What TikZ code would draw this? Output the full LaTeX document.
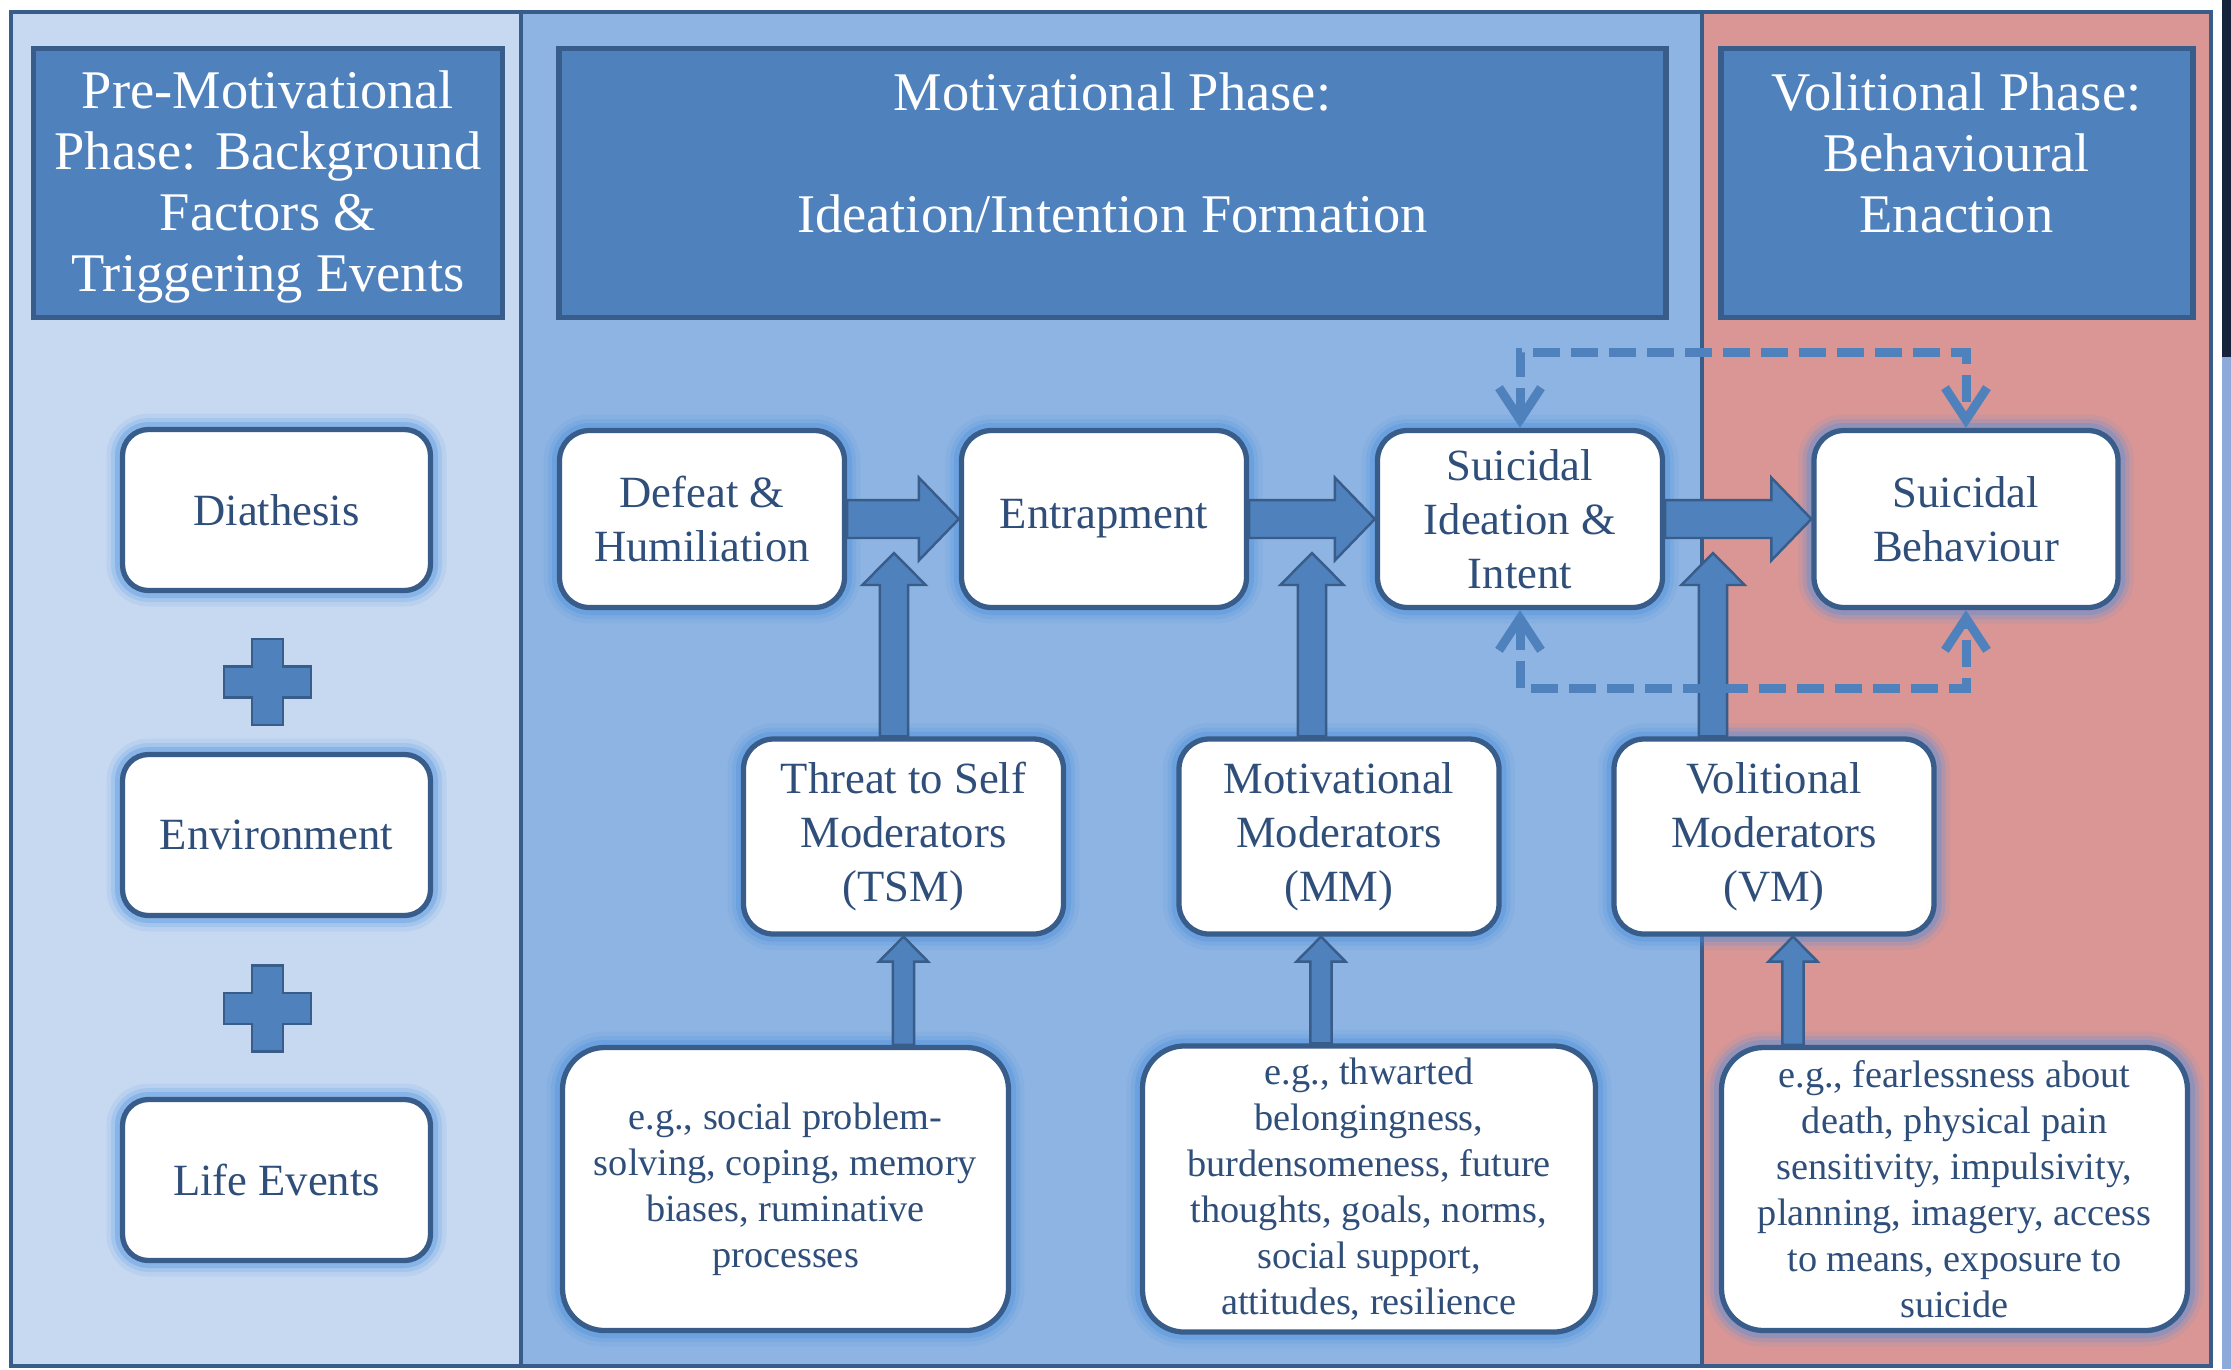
\documentclass[tikz,border=0pt]{standalone}
\usepackage{fontspec}
\setmainfont{Liberation Serif}
\usetikzlibrary{arrows.meta,positioning,calc}

\definecolor{paleblue}{HTML}{C6D9F1}
\definecolor{midblue}{HTML}{8EB4E3}
\definecolor{rosered}{HTML}{D99694}
\definecolor{headblue}{HTML}{4F81BD}
\definecolor{edgeblue}{HTML}{385D8A}
\definecolor{glowblue}{HTML}{4A8FE0}
\definecolor{inkblue}{HTML}{2F4F7A}
\definecolor{navystrip}{HTML}{17233A}
\definecolor{sidestrip}{HTML}{8EAADB}

\tikzset{
    phasehead/.style={rectangle, fill=headblue, draw=edgeblue, line width=1.7pt,
        text=white, align=center, minimum height=26.9mm,
        font=\fontsize{15.5}{17.3}\selectfont},
    card/.style={rectangle, fill=white, draw=edgeblue, line width=1.5pt,
        text=inkblue, align=center,
        preaction={draw=glowblue, line width=3.2mm, opacity=0.1},
        preaction={draw=glowblue, line width=2.3mm, opacity=0.18},
        preaction={draw=glowblue, line width=1.5mm, opacity=0.3}},
    factor/.style={card, rounded corners=2.6mm, minimum width=30.8mm,
        minimum height=16.1mm, font=\fontsize{12.7}{15.4}\selectfont},
    stage/.style={card, rounded corners=3mm, minimum width=28.5mm,
        minimum height=17.7mm, font=\fontsize{12.7}{15.4}\selectfont},
    moderator/.style={card, rounded corners=3mm, minimum width=32mm,
        minimum height=19.5mm, font=\fontsize{12.7}{15.4}\selectfont},
    example/.style={card, rounded corners=4.2mm, minimum height=28.3mm,
        font=\fontsize{10.9}{13.1}\selectfont},
    plussign/.style={fill=headblue, draw=edgeblue, line width=0.8pt},
    fatright/.style={draw=edgeblue, fill=headblue, line width=0.7pt,
        to path={let \p1=(\tikztostart), \p2=(\tikztotarget) in
            (\x1,\y1+5.4pt) -- (\x2-11.4pt,\y1+5.4pt) -- (\x2-11.4pt,\y1+11.8pt)
            -- (\x2,\y1) -- (\x2-11.4pt,\y1-11.8pt) -- (\x2-11.4pt,\y1-5.4pt)
            -- (\x1,\y1-5.4pt) -- cycle}},
    fatup/.style={draw=edgeblue, fill=headblue, line width=0.7pt,
        to path={let \p1=(\tikztostart), \p2=(\tikztotarget) in
            (\x1-4pt,\y1) -- (\x1-4pt,\y2-9.1pt) -- (\x1-9pt,\y2-9.1pt)
            -- (\x1,\y2) -- (\x1+9pt,\y2-9.1pt) -- (\x1+4pt,\y2-9.1pt)
            -- (\x1+4pt,\y1) -- cycle}},
    thinup/.style={draw=edgeblue, fill=headblue, line width=0.7pt,
        to path={let \p1=(\tikztostart), \p2=(\tikztotarget) in
            (\x1-3pt,\y1) -- (\x1-3pt,\y2-7.1pt) -- (\x1-7pt,\y2-7.1pt)
            -- (\x1,\y2) -- (\x1+7pt,\y2-7.1pt) -- (\x1+3pt,\y2-7.1pt)
            -- (\x1+3pt,\y1) -- cycle}},
    feedback/.style={draw=headblue, line width=0.9mm,
        dash pattern=on 2.7mm off 1.1mm, <->},
}

\begin{document}
\begin{tikzpicture}[x=0.1mm, y=-0.1mm, >={Straight Barb[length=3.2mm,width=4.2mm]}, node distance=40mm]
    \useasboundingbox (0,0) rectangle (2231,1369);
    \fill[white] (0,0) rectangle (2231,1369);
    \fill[navystrip] (2222,0) rectangle (2231,357);
    \fill[sidestrip] (2222,357) rectangle (2231,1369);

    \filldraw[fill=paleblue, draw=edgeblue, line width=1.3pt] (11,12) rectangle (521,1366);
    \filldraw[fill=midblue, draw=edgeblue, line width=1.3pt] (521,12) rectangle (1702,1366);
    \filldraw[fill=rosered, draw=edgeblue, line width=1.3pt] (1702,12) rectangle (2211,1366);

    \node[phasehead, minimum width=46.9mm] (prehead) at (268,183)
        {\rule{0pt}{13pt}Pre-Motivational\\Phase: Background\\Factors \&\\Triggering Events};
    \node[phasehead, minimum width=110.7mm] (motivhead) at (1112.5,183)
        {Motivational Phase:\\\mbox{}\\Ideation/Intention Formation\\\mbox{}};
    \node[phasehead, minimum width=47.2mm] (volhead) at (1956.5,183)
        {Volitional Phase:\\Behavioural\\Enaction\\\mbox{}};

    \node[factor] (diath) at (276.5,510) {Diathesis};
    \node[factor, node distance=32.5mm, below of=diath] (envir) {Environment};
    \node[factor, node distance=34.5mm, below of=envir] (life) {Life Events};

    \coordinate (plusa) at (267.5,682);
    \coordinate (plusb) at (267.5,1008.5);
    \foreach \p in {plusa,plusb}
        \draw[plussign] (\p) ++(-15.5,-43) -- ++(31,0) -- ++(0,27.5) -- ++(28,0)
            -- ++(0,31) -- ++(-28,0) -- ++(0,27.5) -- ++(-31,0) -- ++(0,-27.5)
            -- ++(-28,0) -- ++(0,-31) -- ++(28,0) -- cycle;

    \node[stage] (defeat) at (702,519) {Defeat \&\\Humiliation};
    \node[stage, node distance=40.2mm, right of=defeat] (entrap) {Entrapment};
    \node[stage, node distance=41.6mm, right of=entrap] (ideation) {Suicidal\\Ideation \&\\Intent};
    \node[stage, minimum width=30.4mm, node distance=44.6mm, right of=ideation] (behav) {Suicidal\\Behaviour};

    \node[moderator] (tsm) at (903.5,836.5) {Threat to Self\\Moderators\\(TSM)};
    \node[moderator, node distance=43.55mm, right of=tsm] (mm) {Motivational\\Moderators\\(MM)};
    \node[moderator, node distance=43.5mm, right of=mm] (vm) {Volitional\\Moderators\\(VM)};

    \node[example, minimum width=44.6mm] (tsmex) at (785.5,1189)
        {e.g., social problem-\\solving, coping, memory\\biases, ruminative\\processes};
    \node[example, minimum width=45.3mm, node distance=58.35mm, right of=tsmex] (mmex)
        {e.g., thwarted\\belongingness,\\burdensomeness, future\\thoughts, goals, norms,\\social support,\\attitudes, resilience};
    \node[example, minimum width=46.6mm, node distance=58.55mm, right of=mmex] (vmex)
        {e.g., fearlessness about\\death, physical pain\\sensitivity, impulsivity,\\planning, imagery, access\\to means, exposure to\\suicide};

    \coordinate (tsmtip) at (894,553);
    \coordinate (mmtip) at (1312,553);
    \coordinate (vmtip) at (1713,553);
    \coordinate (tsmfoot) at (903.5,990);
    \coordinate (mmfoot) at (1321,990);
    \coordinate (vmfoot) at (1793,990);
    \coordinate (looptop) at (1743,352);
    \coordinate (loopbot) at (1743,688);

    \path
    (tsmtip |- tsm.north) edge [fatup] (tsmtip)
    (mmtip |- mm.north) edge [fatup] (mmtip)
    (vmtip |- vm.north) edge [fatup] (vmtip)

    (defeat.east) edge [fatright] (entrap.west)
    (entrap.east) edge [fatright] (ideation.west)
    (ideation.east) edge [fatright] (behav.west)

    (tsmfoot |- tsmex.north) edge [thinup] (tsmfoot |- tsm.south)
    (mmfoot |- mmex.north) edge [thinup] (mmfoot |- mm.south)
    (vmfoot |- vmex.north) edge [thinup] (vmfoot |- vm.south)
    ;

    \draw[feedback] (ideation.north) |- (looptop) -| (behav.north);
    \draw[feedback] (ideation.south) |- (loopbot) -| (behav.south);
\end{tikzpicture}
\end{document}
